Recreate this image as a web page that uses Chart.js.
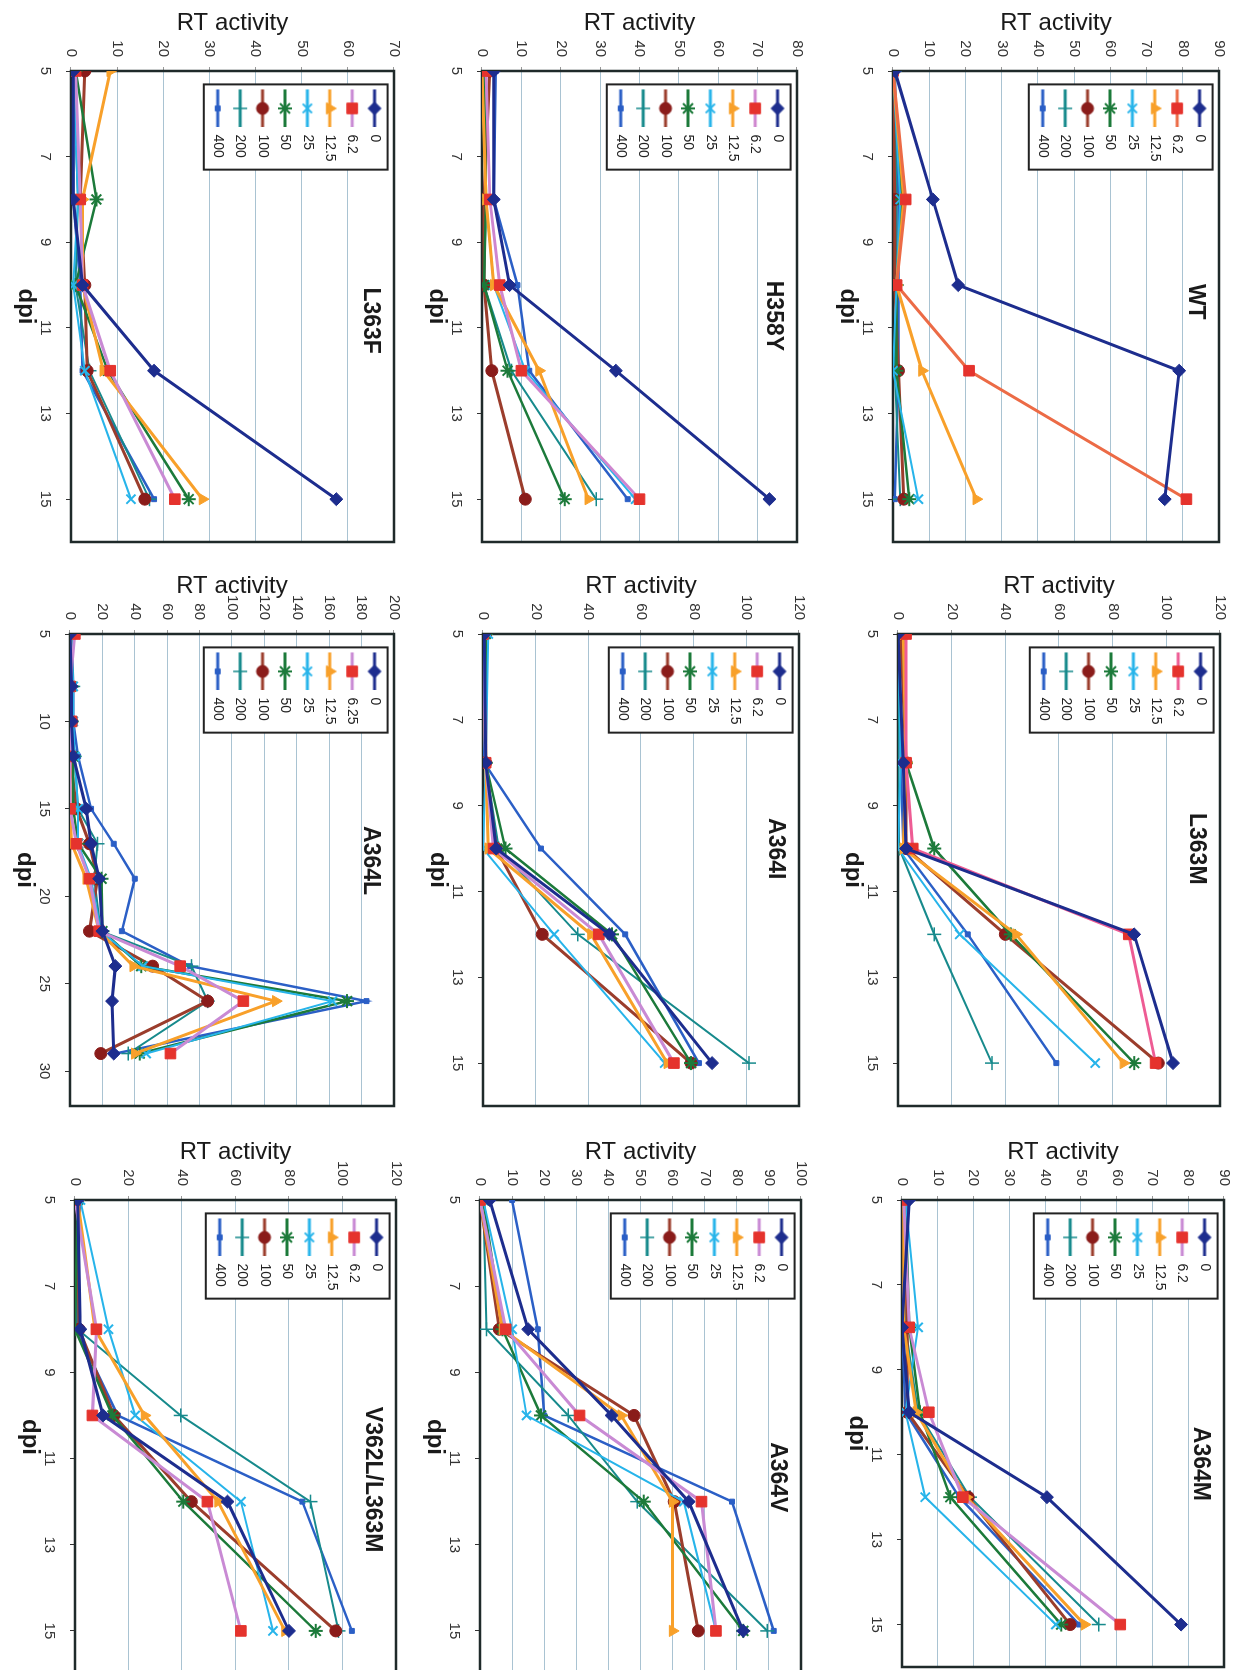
<!DOCTYPE html>
<html lang="en">
<head>
<meta charset="UTF-8">
<title>RT activity</title>
<script src="https://cdn.jsdelivr.net/npm/chart.js@4.4.1/dist/chart.umd.min.js"></script>
<style>
  html, body { margin: 0; padding: 0; background: #fff; }
  body { width: 1243px; height: 1670px; overflow: hidden; position: relative; }
  /* the whole figure is turned a quarter turn clockwise */
  #fig { position: absolute; left: 0; top: 0; width: 1670px; height: 1243px;
         transform-origin: 0 0; transform: translate(1243px, 0) rotate(90deg); }
  #fig canvas { position: absolute; }
</style>
</head>
<body>
<div id="fig"></div>
<script>
// legend labels (drug concentration)
const doses = ['0', '6.2', '12.5', '25', '50', '100', '200', '400'];
const dosesA364L = ['0', '6.25', '12.5', '25', '50', '100', '200', '400'];
// sampling days
const days = [5, 8, 10, 12, 15];
const daysA364L = [5, 8, 10, 12, 15, 17, 19, 22, 24, 26, 29];
// dpi tick labels
const dpiTicks = [5, 7, 9, 11, 13, 15];
const dpiTicksA364L = [5, 10, 15, 20, 25, 30];

// RT activity, one row per dose (0 ... 400)
const rtWT = [
  [0.5, 11, 18, 79, 75],
  [0, 3.5, 1, 21, 81],
  [0, 3, 1, 8, 23],
  [0, 2, 1, 0, 7],
  [0, 2.5, 1, 1, 4.5],
  [0, 0.5, 0.5, 1.5, 3],
  [0.5, 1, 1, 0.5, 2],
  [0.5, 1.5, 1.5, 1.5, 0.5]
];
const rtL363M = [
  [0, 2, 3, 88, 102.5],
  [3, 3, 5.5, 86, 96],
  [2, 3, 2, 44, 84],
  [0, 1, 0, 23, 73.5],
  [2, 3, 13.5, 42, 88],
  [1, 3, 3, 40, 97],
  [0.5, 0, 0.5, 13.5, 35],
  [0.5, 1, 2, 26, 59]
];
const rtA364M = [
  [2, 0, 2, 40.5, 78],
  [0.5, 2, 7.5, 17, 61],
  [0.5, 0.5, 4, 18, 51],
  [1, 4.5, 1, 6.5, 43],
  [1, 2, 5, 13.5, 44.5],
  [0.5, 1.5, 1.5, 18.5, 47],
  [1, 1, 4.5, 19, 55],
  [1.5, 0, 1, 16, 49.5]
];
const rtH358Y = [
  [3, 3, 7, 34, 73],
  [1, 2, 4.5, 10, 40],
  [0, 1, 3, 14.5, 27],
  [0, 1, 3, 11, 39],
  [0.5, 1, 0.5, 6.5, 21],
  [2, 0.5, 0.5, 2.5, 11],
  [0.5, 1, 0.5, 7.5, 29],
  [3.5, 3, 9, 12, 37]
];
const rtA364I = [
  [0.5, 1, 5, 48, 87],
  [0, 1, 4, 44, 72.5],
  [0, 1, 2, 41, 70],
  [2, 1, 0, 27, 69],
  [1, 1, 8.5, 49, 79],
  [1, 1, 5, 22.5, 79],
  [1, 1, 6, 36, 101],
  [0.5, 0.5, 22, 54, 82]
];
const rtA364V = [
  [3, 15, 41, 65, 82],
  [0, 8, 31, 69, 73.5],
  [0, 7, 44, 60, 60],
  [1, 10, 14.5, 63.5, 73.5],
  [1, 7, 19, 51, 82],
  [0, 6, 48, 60.5, 68],
  [1, 2, 27.5, 49, 89.5],
  [10, 18, 20, 78.5, 91.5]
];
const rtL363F = [
  [0.5, 0.5, 2.5, 18, 57.5],
  [1, 2, 2.5, 8.5, 22.5],
  [8.5, 2.5, 2.5, 7, 28.5],
  [0.5, 1.5, 0.5, 3, 13],
  [1, 5.5, 1, 8, 25.5],
  [3, 2, 3, 3.5, 16],
  [0.5, 1.5, 1, 4, 17],
  [0.5, 0.5, 2, 2.5, 18]
];
const rtA364L = [
  [0, 1, 1, 2, 10, 13, 18, 20, 28, 26, 27],
  [3, 0, 1, 0, 0, 4, 12, 18, 68, 107, 62],
  [0, 0, 0, 0, 0, 1, 10, 18, 39, 127, 40],
  [1, 2, 2, 3, 5, 5, 13, 19, 45, 162, 47],
  [1, 1, 1, 2, 2, 5, 19.5, 20, 44, 171, 43],
  [0, 0, 1, 0, 4, 12, 17, 12, 51, 85, 19],
  [1, 2, 1, 3, 5, 17, 15, 19, 75, 85, 36],
  [1, 2, 2, 5, 13, 27, 40, 32, 74, 183, 28]
];
const rtV362L = [
  [1, 2, 10.5, 57, 80],
  [0, 8, 6.5, 49.5, 62],
  [1, 7.5, 26, 53.5, 78.5],
  [2, 12.5, 22.5, 62, 74],
  [1, 0, 14, 40.5, 90],
  [1, 1.5, 14.5, 43.5, 97.5],
  [1, 1, 39.5, 88, 98.5],
  [2, 0.5, 16, 85, 103.5]
];

const FONT = "'Liberation Sans', Arial, Helvetica, sans-serif";

// look of each dose series (marker colour, line colour, marker)
const looks = [
  { color: '#1d2d8e', line: '#1d2d8e', style: 'rectRot', r: 6.5, bw: 1, lw: 3 },
  { color: '#e5332d', line: null, style: 'rect', r: 7.5, bw: 1, lw: 3 },
  { color: '#f8a02a', line: '#f8a02a', style: 'triangle', r: 6.5, bw: 1, lw: 3 },
  { color: '#27b4ea', line: '#27b4ea', style: 'crossRot', r: 6.5, bw: 2, lw: 2 },
  { color: '#1c7a3a', line: '#1c7a3a', style: 'star', r: 7, bw: 2, lw: 2.5 },
  { color: '#8a1c1a', line: '#9b3d2c', style: 'circle', r: 6, bw: 1, lw: 3 },
  { color: '#178a8c', line: '#178a8c', style: 'cross', r: 7, bw: 1.5, lw: 2 },
  { color: '#2b5fc6', line: '#2b5fc6', style: 'rect', r: 3.5, bw: 1, lw: 2.5 }
];

// plot frames in the unrotated figure (x, y, w, h)
const panels = [
  { title: 'WT', rt: rtWT, names: doses, days: days, ticks: dpiTicks, xMax: 16, yMax: 90, yStep: 10,
    x: 71, y: 24, w: 471, h: 326, labelAt: 0.49, line62: '#ec6b46' },
  { title: 'L363M', rt: rtL363M, names: doses, days: days, ticks: dpiTicks, xMax: 16, yMax: 120, yStep: 20,
    x: 634, y: 23, w: 472, h: 322, labelAt: 0.455, line62: '#ee5c94' },
  { title: 'A364M', rt: rtA364M, names: doses, days: days, ticks: dpiTicks, xMax: 16, yMax: 90, yStep: 10,
    x: 1200, y: 19, w: 467, h: 322, labelAt: 0.565, line62: '#c98ad4' },
  { title: 'H358Y', rt: rtH358Y, names: doses, days: days, ticks: dpiTicks, xMax: 16, yMax: 80, yStep: 10,
    x: 71, y: 446, w: 471, h: 315, labelAt: 0.52, line62: '#cf86cf' },
  { title: 'A364I', rt: rtA364I, names: doses, days: days, ticks: dpiTicks, xMax: 16, yMax: 120, yStep: 20,
    x: 634, y: 444, w: 472, h: 316, labelAt: 0.455, line62: '#c98ad4' },
  { title: 'A364V', rt: rtA364V, names: doses, days: days, ticks: dpiTicks, xMax: 16, yMax: 100, yStep: 10,
    x: 1200, y: 442, w: 474, h: 321, labelAt: 0.585, line62: '#c98ad4' },
  { title: 'L363F', rt: rtL363F, names: doses, days: days, ticks: dpiTicks, xMax: 16, yMax: 70, yStep: 10,
    x: 71, y: 849, w: 471, h: 323, labelAt: 0.53, line62: '#c98ad4' },
  { title: 'A364L', rt: rtA364L, names: dosesA364L, days: daysA364L, ticks: dpiTicksA364L, xMax: 32, yMax: 200, yStep: 20,
    x: 634, y: 849, w: 472, h: 324, labelAt: 0.48, line62: '#c98ad4' },
  { title: 'V362L/L363M', rt: rtV362L, names: doses, days: days, ticks: dpiTicks, xMax: 16, yMax: 120, yStep: 20,
    x: 1200, y: 847, w: 474, h: 321, labelAt: 0.59, line62: '#c98ad4' }
];

const Y_W = 66, X_H = 64, PAD_T = 10, PAD_R = 8;

// small line+marker picture for the legend
function makeIcon(look, lineColor) {
  const c = document.createElement('canvas');
  c.width = 48; c.height = 18;
  const g = c.getContext('2d');
  g.strokeStyle = lineColor; g.lineWidth = 3;
  g.beginPath(); g.moveTo(10, 9); g.lineTo(48, 9); g.stroke();
  g.fillStyle = look.color; g.strokeStyle = look.color; g.lineWidth = look.bw;
  Chart.helpers.drawPoint(g, { pointStyle: look.style, radius: look.r, borderWidth: look.bw, rotation: 0 }, 29, 9);
  return c;
}

// black frame round the plot
const framePlugin = {
  id: 'frame',
  afterLayout(chart) {
    // legend sits in the top-left corner of the plot
    const a = chart.chartArea, lg = chart.legend;
    if (lg) {
      lg.left = a.left; lg.right = a.right;
      lg.top = a.top + 4; lg.bottom = a.bottom;
      lg.width = a.right - a.left; lg.height = a.bottom - a.top - 4;
    }
  },
  beforeDatasetsDraw(chart) {
    const { ctx, chartArea: a } = chart;
    ctx.save();
    ctx.strokeStyle = '#1f2a2a';
    ctx.lineWidth = 2.5;
    ctx.strokeRect(a.left, a.top, a.width, a.height);
    ctx.restore();
  }
};

// boxed legend on top + panel name inside the plot
const extrasPlugin = {
  id: 'extras',
  afterDraw(chart, args, opts) {
    const { ctx, chartArea: a } = chart;
    const hb = chart.legend.legendHitBoxes;
    if (hb && hb.length) {
      const left = hb[0].left + 5;
      const top = hb[0].top - 6;
      let right = 0;
      hb.forEach(b => { right = Math.max(right, b.left + b.width); });
      const last = hb[hb.length - 1];
      const bottom = last.top + last.height + 7;
      ctx.save();
      ctx.fillStyle = '#fff';
      ctx.fillRect(left, top, right + 8 - left, bottom - top);
      ctx.strokeStyle = '#222';
      ctx.lineWidth = 2;
      ctx.strokeRect(left, top, right + 8 - left, bottom - top);
      ctx.restore();
      chart.legend.draw();
    }
    ctx.save();
    ctx.font = 'bold 23px ' + FONT;
    ctx.fillStyle = '#1a1a1a';
    ctx.textAlign = 'center';
    ctx.textBaseline = 'middle';
    ctx.fillText(opts.text, a.left + a.width * opts.at, a.top + 24);
    ctx.restore();
  }
};

function buildConfig(p) {
  const icons = looks.map(l => makeIcon(l, l.line || p.line62));
  const datasets = p.rt.map((vals, i) => {
    const l = looks[i];
    return {
      label: p.names[i],
      data: p.days.map((d, k) => ({ x: d, y: vals[k] })),
      borderColor: l.line || p.line62,
      borderWidth: l.lw,
      backgroundColor: l.color,
      pointStyle: l.style,
      pointRadius: l.r,
      pointBackgroundColor: l.color,
      pointBorderColor: l.color,
      pointBorderWidth: l.bw,
      tension: 0
    };
  });
  return {
    type: 'line',
    data: { datasets: datasets },
    options: {
      responsive: false,
      maintainAspectRatio: false,
      animation: false,
      devicePixelRatio: 1,
      layout: { padding: { top: PAD_T, right: PAD_R, left: 0, bottom: 0 } },
      scales: {
        x: {
          type: 'linear', min: 5, max: p.xMax,
          afterBuildTicks: ax => { ax.ticks = p.ticks.map(v => ({ value: v })); },
          afterFit: ax => { ax.height = X_H; },
          grid: { drawOnChartArea: false, drawTicks: true, tickLength: 5, tickColor: '#333', color: '#333' },
          border: { display: false },
          ticks: { font: { family: FONT, size: 15 }, color: '#333', padding: 12, maxRotation: 0, autoSkip: false },
          title: { display: true, text: 'dpi', color: '#1a1a1a',
                   font: { family: FONT, size: 24, weight: 'bold' }, padding: { top: 0, bottom: 4 } }
        },
        y: {
          min: 0, max: p.yMax,
          afterFit: ax => { ax.width = Y_W; },
          grid: { color: '#a9c3d2', lineWidth: 1, drawTicks: true, tickLength: 4, tickColor: '#999' },
          border: { display: false },
          ticks: { stepSize: p.yStep, font: { family: FONT, size: 15 }, color: '#333', padding: 10 },
          title: { display: true, text: 'RT activity', color: '#1a1a1a',
                   font: { family: FONT, size: 24 }, padding: { top: 4, bottom: 4 } }
        }
      },
      plugins: {
        tooltip: { enabled: false },
        legend: {
          position: 'chartArea',
          align: 'start',
          labels: {
            usePointStyle: true,
            pointStyleWidth: 48,
            boxHeight: 14,
            padding: 8.4,
            color: '#222',
            font: { family: FONT, size: 14 },
            generateLabels: chart => Chart.defaults.plugins.legend.labels.generateLabels(chart)
              .map((it, i) => Object.assign(it, { pointStyle: icons[i] }))
          }
        },
        extras: { text: p.title, at: p.labelAt }
      }
    },
    plugins: [framePlugin, extrasPlugin]
  };
}

const fig = document.getElementById('fig');

panels.forEach(p => {
  const canvas = document.createElement('canvas');
  canvas.width = p.w + Y_W + PAD_R;
  canvas.height = p.h + PAD_T + X_H;
  fig.appendChild(canvas);

  let chart = new Chart(canvas, buildConfig(p));
  // make the plot frame come out at the wanted size
  let a = chart.chartArea;
  const dw = Math.round(p.w - (a.right - a.left));
  const dh = Math.round(p.h - (a.bottom - a.top));
  if (dw !== 0 || dh !== 0) {
    const w0 = canvas.width, h0 = canvas.height;
    chart.destroy();
    canvas.width = w0 + dw;
    canvas.height = h0 + dh;
    chart = new Chart(canvas, buildConfig(p));
    a = chart.chartArea;
  }
  canvas.style.left = (p.x - a.left) + 'px';
  canvas.style.top = (p.y - a.top) + 'px';
});
</script>
</body>
</html>
